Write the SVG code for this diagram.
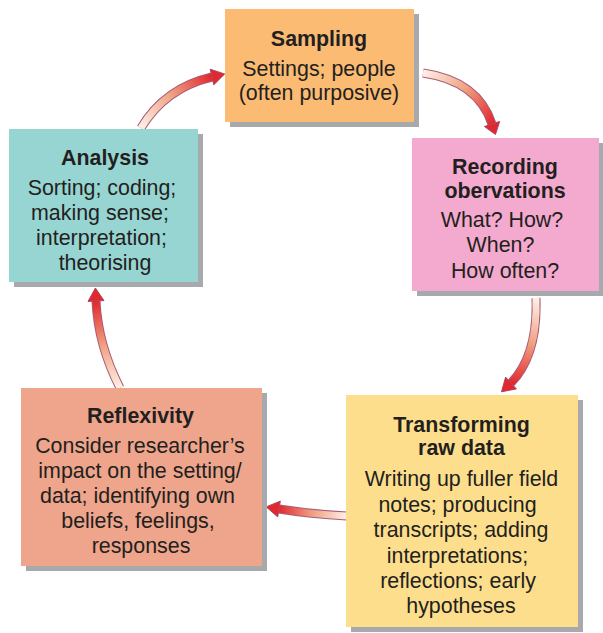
<svg xmlns="http://www.w3.org/2000/svg" width="603" height="633" viewBox="0 0 603 633">
<defs>
<style>
text{font-family:"Liberation Sans",Arial,sans-serif;font-size:21.4px;fill:#231F20;text-anchor:middle}
.t{font-weight:bold}
.sh{fill:#A7A9AC}
.edge{fill:none;stroke:#A85A78;stroke-width:9}
.head{fill:#E2282E;stroke:#A8485F;stroke-width:1}
</style>
<linearGradient id="g1" gradientUnits="userSpaceOnUse" x1="141" y1="128" x2="212" y2="77"><stop offset="0" stop-color="#FEF0E6"/><stop offset="0.5" stop-color="#F0A283"/><stop offset="1" stop-color="#E2282E"/></linearGradient>
<linearGradient id="g2" gradientUnits="userSpaceOnUse" x1="423" y1="73" x2="492" y2="124"><stop offset="0" stop-color="#FEF0E6"/><stop offset="0.5" stop-color="#F0A283"/><stop offset="1" stop-color="#E2282E"/></linearGradient>
<linearGradient id="g3" gradientUnits="userSpaceOnUse" x1="536" y1="298" x2="511" y2="383"><stop offset="0" stop-color="#FEF0E6"/><stop offset="0.5" stop-color="#F0A283"/><stop offset="1" stop-color="#E2282E"/></linearGradient>
<linearGradient id="g4" gradientUnits="userSpaceOnUse" x1="347" y1="516" x2="279" y2="509"><stop offset="0" stop-color="#FEF0E6"/><stop offset="0.5" stop-color="#F0A283"/><stop offset="1" stop-color="#E2282E"/></linearGradient>
<linearGradient id="g5" gradientUnits="userSpaceOnUse" x1="120" y1="388" x2="96" y2="301"><stop offset="0" stop-color="#FEF0E6"/><stop offset="0.5" stop-color="#F0A283"/><stop offset="1" stop-color="#E2282E"/></linearGradient>
</defs>
<rect width="603" height="633" fill="#FFFFFF"/>
<g id="connectors">
<path class="edge" d="M141,128 Q165,88 212,77"/>
<path d="M141,128 Q165,88 212,77" fill="none" stroke="url(#g1)" stroke-width="7"/>
<polygon class="head" points="224.7,74 213.8,84.8 210.2,69.2"/>
<path class="edge" d="M423,73 Q478,81 492,124"/>
<path d="M423,73 Q478,81 492,124" fill="none" stroke="url(#g2)" stroke-width="7"/>
<polygon class="head" points="495.5,134.5 499.6,121.5 484.4,126.5"/>
<path class="edge" d="M536,298 Q538,355 511,383"/>
<path d="M536,298 Q538,355 511,383" fill="none" stroke="url(#g3)" stroke-width="7"/>
<polygon class="head" points="501.5,391.8 516.4,388.9 505.6,377.1"/>
<path class="edge" d="M347,516 Q310,514 279,509"/>
<path d="M347,516 Q310,514 279,509" fill="none" stroke="url(#g4)" stroke-width="7"/>
<polygon class="head" points="266.2,506.9 280.3,501.1 277.7,516.9"/>
<path class="edge" d="M120,388 Q98,345 96,301"/>
<path d="M120,388 Q98,345 96,301" fill="none" stroke="url(#g5)" stroke-width="7"/>
<polygon class="head" points="95.4,288 104,300.6 88,301.4"/>
</g>
<g id="sampling">
<rect class="sh" x="230" y="14" width="189" height="113"/>
<rect x="225" y="9" width="189" height="113" fill="#FBBB73"/>
<text class="t" x="319" y="46">Sampling</text>
<text x="319" y="76">Settings; people</text>
<text x="319" y="100">(often purposive)</text>
</g>
<g id="recording">
<rect class="sh" x="417" y="143" width="187" height="153"/>
<rect x="412" y="138" width="187" height="153" fill="#F4AACE"/>
<text class="t" x="505" y="174">Recording</text>
<text class="t" x="505" y="198">obervations</text>
<text x="502" y="227">What? How?</text>
<text x="500.5" y="252">When?</text>
<text x="505" y="278">How often?</text>
</g>
<g id="transforming">
<rect class="sh" x="351" y="400" width="232" height="232"/>
<rect x="346" y="395" width="232" height="232" fill="#FDDE8C"/>
<text class="t" x="461.5" y="432">Transforming</text>
<text class="t" x="461.5" y="455">raw data</text>
<text x="461.5" y="486">Writing up fuller field</text>
<text x="457.5" y="512">notes; producing</text>
<text x="461" y="537">transcripts; adding</text>
<text x="457.5" y="563">interpretations;</text>
<text x="458" y="588">reflections; early</text>
<text x="461" y="613">hypotheses</text>
</g>
<g id="reflexivity">
<rect class="sh" x="26" y="393" width="241" height="178"/>
<rect x="21" y="388" width="241" height="178" fill="#EEA58B"/>
<text class="t" x="140.5" y="423">Reflexivity</text>
<text x="140" y="453">Consider researcher’s</text>
<text x="140" y="478">impact on the setting/</text>
<text x="137.5" y="503">data; identifying own</text>
<text x="138" y="528">beliefs, feelings,</text>
<text x="141" y="553">responses</text>
</g>
<g id="analysis">
<rect class="sh" x="14" y="134" width="189" height="153"/>
<rect x="9" y="129" width="189" height="153" fill="#97D5D2"/>
<text class="t" x="105" y="165">Analysis</text>
<text x="102" y="195">Sorting; coding;</text>
<text x="100" y="220">making sense;</text>
<text x="101.5" y="245">interpretation;</text>
<text x="105" y="270">theorising</text>
</g>
</svg>
